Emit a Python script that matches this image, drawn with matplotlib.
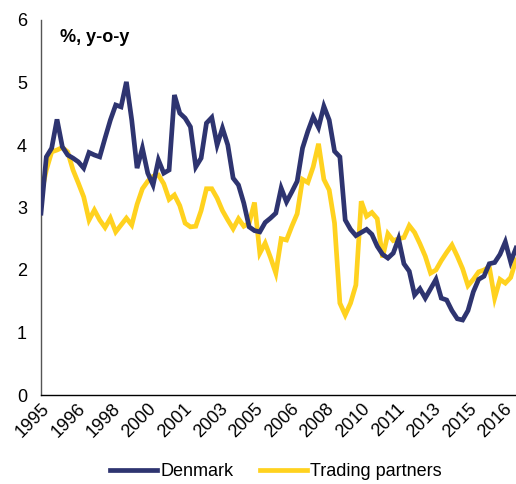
import matplotlib
matplotlib.use("Agg")
import matplotlib.pyplot as plt
import numpy as np

plt.rcParams['font.family'] = ['Liberation Sans', 'DejaVu Sans']

start_year = 1995
denmark = [2.91, 3.81, 3.95, 4.41, 3.97, 3.84, 3.79, 3.73, 3.63, 3.88,
           3.84, 3.81, 4.11, 4.40, 4.64, 4.61, 5.01, 4.40, 3.63, 3.95,
           3.55, 3.36, 3.76, 3.55, 3.60, 4.80, 4.51, 4.43, 4.29, 3.65,
           3.79, 4.35, 4.44, 4.00, 4.27, 4.00, 3.47, 3.36, 3.07, 2.69,
           2.63, 2.61, 2.76, 2.83, 2.91, 3.31, 3.09, 3.25, 3.42, 3.95,
           4.22, 4.45, 4.28, 4.62, 4.40, 3.90, 3.81, 2.80, 2.65, 2.55,
           2.60, 2.65, 2.57, 2.38, 2.25, 2.19, 2.27, 2.50, 2.10, 1.98,
           1.60, 1.70, 1.55, 1.70, 1.85, 1.55, 1.52, 1.35, 1.22, 1.20,
           1.35, 1.65, 1.85, 1.90, 2.10, 2.12, 2.25, 2.45, 2.13, 2.35]
partners = [3.20, 3.60, 3.89, 3.92, 3.96, 3.89, 3.60, 3.39, 3.17, 2.80,
            2.96, 2.80, 2.68, 2.83, 2.61, 2.72, 2.83, 2.72, 3.05, 3.30,
            3.42, 3.50, 3.52, 3.38, 3.13, 3.20, 3.03, 2.75, 2.69, 2.70,
            2.95, 3.30, 3.30, 3.15, 2.95, 2.80, 2.66, 2.82, 2.70, 2.75,
            3.08, 2.27, 2.43, 2.20, 1.95, 2.50, 2.48, 2.70, 2.90, 3.45,
            3.40, 3.65, 4.02, 3.45, 3.28, 2.75, 1.47, 1.28, 1.47, 1.76,
            3.10, 2.86, 2.92, 2.82, 2.20, 2.58, 2.47, 2.50, 2.52, 2.71,
            2.60, 2.42, 2.22, 1.95, 2.00, 2.15, 2.28, 2.40, 2.22, 2.02,
            1.75, 1.85, 1.97, 2.00, 2.05, 1.55, 1.85, 1.79, 1.88, 2.16]
tick_months = [0, 20, 40, 60, 80, 100, 120, 140, 160, 180, 200, 220, 240, 260]
y_ticks = [0, 1, 2, 3, 4, 5, 6]

x = start_year + np.arange(len(denmark)) / 4.0

fig = plt.figure(figsize=(5.16, 4.84), dpi=100)
ax = fig.add_axes([41/516, 1 - 395/484, 1 - 41/516, (395 - 20)/484])

navy = '#2E3470'
yellow = '#FFD21F'
ax.plot(x, denmark, color=navy, lw=3.4, label='Denmark', solid_joinstyle='miter', zorder=3)
ax.plot(x, partners, color=yellow, lw=3.4, label='Trading partners', solid_joinstyle='miter', zorder=2)

ax.set_xlim(start_year, start_year + 89.0/4)
ax.set_ylim(0, 6)
ax.set_yticks(y_ticks)
ax.set_yticklabels([str(v) for v in y_ticks], fontsize=13)
tick_pos = [start_year + m / 12.0 for m in tick_months]
ax.set_xticks(tick_pos)
ax.set_xticklabels([str(start_year + m // 12) for m in tick_months], fontsize=13,
                   rotation=45, ha='right', va='top', rotation_mode='anchor')
ax.tick_params(axis='both', length=0)
ax.tick_params(axis='y', pad=10)
ax.tick_params(axis='x', pad=4)

for s in ['top', 'right']:
    ax.spines[s].set_visible(False)
ax.spines['left'].set_color('#555555')
ax.spines['left'].set_linewidth(1.0)
ax.spines['bottom'].set_color('black')
ax.spines['bottom'].set_linewidth(1.0)

ax.text(0.04, 0.977, '%, y-o-y', transform=ax.transAxes, fontsize=13,
        fontweight='bold', ha='left', va='top')

fig.legend(loc='center', bbox_to_anchor=(0.535, 1 - 472/484), ncol=2, frameon=False,
           fontsize=13, handlelength=2.6, handletextpad=0.2, columnspacing=1.45)

fig.savefig('out.png', dpi=100)
